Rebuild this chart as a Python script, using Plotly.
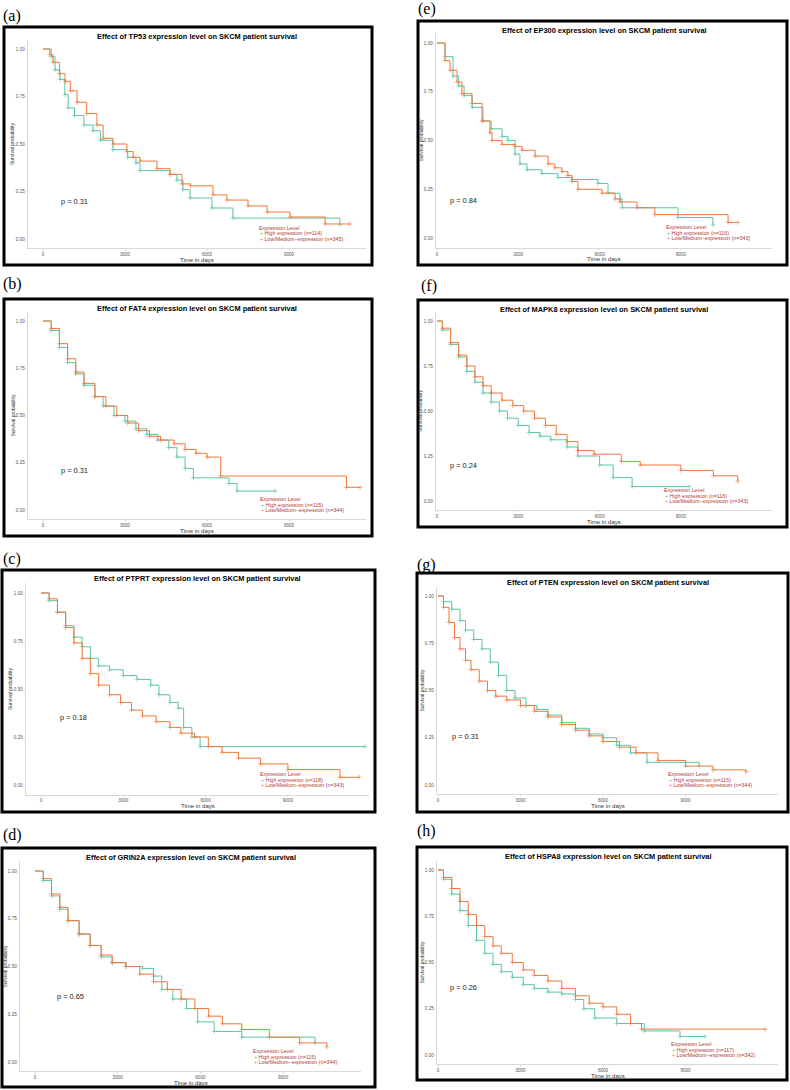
import plotly.graph_objects as go

W, H = 790, 1090
GREEN = "#5cc4a4"
ORANGE = "#f2773b"
LEG_RED = "#b03a36"

# ---------------- data ----------------
genes = ["TP53", "FAT4", "PTPRT", "GRIN2A", "EP300", "MAPK8", "PTEN", "HSPA8"]
labels = ["(a)", "(b)", "(c)", "(d)", "(e)", "(f)", "(g)", "(h)"]
pvals = ["0.31", "0.31", "0.18", "0.65", "0.84", "0.24", "0.31", "0.26"]
n_high = [114, 115, 118, 115, 116, 116, 115, 117]
n_low = [345, 344, 343, 344, 343, 343, 344, 342]

x_ticks = [0, 3000, 6000, 9000]
y_ticks = [0, 0.25, 0.5, 0.75, 1.0]
y_ticktext = ["0.00", "0.25", "0.50", "0.75", "1.00"]

# TP53
a_high_t = [0, 300, 440, 620, 800, 920, 1150, 1500, 1830, 2100, 2560, 3100, 3400, 3550, 4650, 4900, 5120, 5380, 6180, 6950, 10860]
a_high_s = [1.0, 0.96, 0.89, 0.84, 0.76, 0.69, 0.65, 0.60, 0.57, 0.52, 0.47, 0.43, 0.40, 0.36, 0.34, 0.31, 0.26, 0.216, 0.163, 0.11, 0.075]
a_low_t = [0, 250, 366, 600, 805, 1000, 1244, 1600, 1975, 2200, 2560, 3070, 3300, 3550, 4170, 4650, 5085, 5400, 6220, 6730, 7500, 8200, 9040, 10320, 11230]
a_low_s = [1.0, 0.97, 0.93, 0.87, 0.83, 0.78, 0.72, 0.66, 0.60, 0.53, 0.50, 0.46, 0.43, 0.41, 0.37, 0.34, 0.29, 0.28, 0.232, 0.205, 0.174, 0.142, 0.116, 0.079, 0.079]

# FAT4
b_high_t = [0, 300, 600, 900, 1200, 1500, 1900, 2200, 2600, 3000, 3400, 3800, 4200, 4600, 4900, 5200, 5500, 6800, 7100, 8500]
b_high_s = [1.0, 0.95, 0.86, 0.78, 0.72, 0.66, 0.60, 0.55, 0.50, 0.47, 0.43, 0.40, 0.37, 0.33, 0.28, 0.22, 0.17, 0.14, 0.10, 0.10]
b_low_t = [0, 300, 600, 900, 1200, 1500, 1900, 2300, 2700, 3100, 3500, 3900, 4300, 4800, 5200, 5600, 6000, 6500, 11100, 11600]
b_low_s = [1.0, 0.96, 0.88, 0.80, 0.73, 0.67, 0.60, 0.55, 0.50, 0.46, 0.42, 0.39, 0.37, 0.35, 0.32, 0.30, 0.28, 0.18, 0.12, 0.12]

# PTPRT
c_high_t = [0, 300, 600, 900, 1200, 1500, 1800, 2100, 2500, 3000, 3500, 4000, 4300, 4700, 5000, 5200, 5500, 5800, 11800]
c_high_s = [1.0, 0.96, 0.90, 0.83, 0.77, 0.72, 0.66, 0.62, 0.60, 0.57, 0.55, 0.52, 0.47, 0.43, 0.40, 0.30, 0.25, 0.20, 0.20]
c_low_t = [0, 300, 600, 900, 1200, 1500, 1800, 2100, 2500, 2900, 3300, 3700, 4200, 4700, 5100, 5600, 6100, 6600, 7200, 8000, 9000, 10900, 11600]
c_low_s = [1.0, 0.97, 0.90, 0.82, 0.74, 0.66, 0.58, 0.52, 0.47, 0.43, 0.39, 0.36, 0.33, 0.30, 0.27, 0.25, 0.20, 0.17, 0.14, 0.11, 0.08, 0.04, 0.04]

# GRIN2A
d_high_t = [0, 300, 600, 900, 1200, 1600, 2000, 2400, 2800, 3300, 3900, 4300, 4600, 5000, 5500, 5900, 6500, 7500, 10160]
d_high_s = [1.0, 0.95, 0.87, 0.80, 0.74, 0.67, 0.61, 0.55, 0.52, 0.50, 0.49, 0.45, 0.38, 0.33, 0.28, 0.21, 0.16, 0.13, 0.10]
d_low_t = [0, 300, 600, 900, 1200, 1600, 2000, 2400, 2800, 3300, 3800, 4300, 4800, 5300, 5800, 6300, 6800, 7500, 8500, 9600, 10590]
d_low_s = [1.0, 0.96, 0.88, 0.81, 0.74, 0.67, 0.61, 0.56, 0.52, 0.50, 0.46, 0.42, 0.38, 0.33, 0.28, 0.24, 0.20, 0.17, 0.13, 0.10, 0.08]

# EP300
e_high_t = [0, 300, 590, 800, 1000, 1300, 1700, 2000, 2400, 2620, 2880, 3060, 3320, 3870, 4465, 5000, 5940, 6310, 6750, 6830, 8890, 10180]
e_high_s = [1.0, 0.93, 0.83, 0.78, 0.73, 0.67, 0.60, 0.56, 0.52, 0.50, 0.43, 0.38, 0.35, 0.33, 0.31, 0.30, 0.28, 0.23, 0.20, 0.155, 0.105, 0.067]
e_low_t = [0, 295, 480, 740, 920, 1290, 1660, 1955, 2030, 2400, 2880, 3140, 3620, 4100, 4350, 4610, 4830, 4980, 5200, 6090, 6570, 6750, 7380, 8040, 10740, 11100]
e_low_s = [1.0, 0.91, 0.86, 0.80, 0.74, 0.69, 0.60, 0.54, 0.50, 0.48, 0.47, 0.45, 0.42, 0.38, 0.36, 0.34, 0.32, 0.29, 0.25, 0.23, 0.20, 0.185, 0.155, 0.12, 0.08, 0.08]

# MAPK8
f_high_t = [0, 200, 500, 800, 1100, 1400, 1700, 2000, 2300, 2600, 3000, 3400, 3800, 4200, 4800, 5200, 6000, 6500, 7200, 9300]
f_high_s = [1.0, 0.95, 0.87, 0.80, 0.72, 0.66, 0.60, 0.55, 0.50, 0.46, 0.42, 0.38, 0.36, 0.34, 0.30, 0.25, 0.20, 0.13, 0.08, 0.08]
f_low_t = [0, 200, 500, 800, 1100, 1400, 1700, 2000, 2400, 2800, 3200, 3600, 4000, 4400, 4800, 5200, 5800, 6800, 7500, 9000, 10200, 11100]
f_low_s = [1.0, 0.96, 0.88, 0.81, 0.75, 0.69, 0.64, 0.60, 0.56, 0.53, 0.50, 0.46, 0.42, 0.37, 0.33, 0.28, 0.26, 0.22, 0.20, 0.17, 0.14, 0.11]

# PTEN
g_high_t = [0, 200, 500, 800, 1000, 1300, 1600, 1900, 2200, 2500, 2800, 3200, 3600, 4000, 4500, 5000, 5500, 6000, 6500, 7000, 7600, 9500]
g_high_s = [1.0, 0.97, 0.93, 0.87, 0.82, 0.77, 0.72, 0.65, 0.58, 0.50, 0.46, 0.42, 0.40, 0.37, 0.33, 0.30, 0.27, 0.25, 0.21, 0.17, 0.12, 0.10]
g_low_t = [0, 200, 400, 600, 800, 1000, 1200, 1500, 1800, 2100, 2500, 3000, 3500, 4000, 4500, 5000, 5500, 6000, 6600, 7200, 8000, 9000, 10000, 11200]
g_low_s = [1.0, 0.94, 0.86, 0.78, 0.72, 0.66, 0.61, 0.55, 0.50, 0.47, 0.45, 0.42, 0.39, 0.36, 0.32, 0.29, 0.26, 0.23, 0.20, 0.17, 0.13, 0.10, 0.08, 0.07]

# HSPA8
h_high_t = [0, 200, 500, 800, 1100, 1400, 1700, 2000, 2300, 2700, 3100, 3500, 4000, 4500, 5000, 5300, 5700, 6500, 7500, 8800, 9700]
h_high_s = [1.0, 0.95, 0.87, 0.78, 0.70, 0.62, 0.55, 0.49, 0.45, 0.42, 0.38, 0.36, 0.34, 0.33, 0.30, 0.25, 0.20, 0.17, 0.13, 0.10, 0.10]
h_low_t = [0, 200, 500, 800, 1100, 1400, 1700, 2000, 2300, 2700, 3100, 3500, 4000, 4500, 5000, 5500, 6000, 6500, 7000, 7400, 11900]
h_low_s = [1.0, 0.96, 0.90, 0.83, 0.76, 0.70, 0.64, 0.59, 0.55, 0.50, 0.46, 0.43, 0.40, 0.36, 0.32, 0.28, 0.26, 0.22, 0.17, 0.14, 0.14]

high_t = [a_high_t, b_high_t, c_high_t, d_high_t, e_high_t, f_high_t, g_high_t, h_high_t]
high_s = [a_high_s, b_high_s, c_high_s, d_high_s, e_high_s, f_high_s, g_high_s, h_high_s]
low_t = [a_low_t, b_low_t, c_low_t, d_low_t, e_low_t, f_low_t, g_low_t, h_low_t]
low_s = [a_low_s, b_low_s, c_low_s, d_low_s, e_low_s, f_low_s, g_low_s, h_low_s]

# ---------------- layout (pixel geometry) ----------------
geo = [
    dict(box=(4, 27, 372, 265), lab=(12, 16), z=43, k=82.0, xl=28, xr=366, y1=49, y0=239, leg=257, p=(59, 202)),
    dict(box=(4, 299, 372, 536), lab=(12, 284), z=43, k=82.0, xl=28, xr=366, y1=321, y0=510, leg=258, p=(59, 470)),
    dict(box=(2, 570, 375, 812), lab=(12, 559), z=41, k=82.3, xl=26, xr=369, y1=593, y0=785, leg=258, p=(58, 717)),
    dict(box=(2, 848, 375, 1087), lab=(12, 835), z=35, k=82.7, xl=20, xr=361, y1=871, y0=1062, leg=251, p=(55, 996)),
    dict(box=(418, 21, 787, 265), lab=(427, 9), z=437, k=81.3, xl=436, xr=772, y1=43, y0=238, leg=664, p=(448, 200)),
    dict(box=(418, 300, 787, 527), lab=(429, 286), z=437, k=81.3, xl=436, xr=772, y1=321, y0=501, leg=662, p=(448, 465)),
    dict(box=(417, 573, 788, 812), lab=(426, 565), z=438, k=82.5, xl=437, xr=778, y1=596, y0=785, leg=666, p=(450, 736)),
    dict(box=(417, 847, 787, 1080), lab=(426, 831), z=438, k=82.5, xl=437, xr=778, y1=870, y0=1055, leg=669, p=(448, 987)),
]


def fx(px):
    return px / W


def fy(py):
    return 1 - py / H


fig = go.Figure()
shapes = []
annotations = []
FONT = "Liberation Sans, Arial, sans-serif"

for i, g in enumerate(geo):
    n = i + 1
    xa = "x" if n == 1 else f"x{n}"
    ya = "y" if n == 1 else f"y{n}"
    unit = g["y0"] - g["y1"]
    yt = g["y1"] - 0.05 * unit
    yb = g["y0"] + 0.05 * unit
    xrange = [(g["xl"] - g["z"]) / g["k"] * 3000, (g["xr"] - g["z"]) / g["k"] * 3000]

    for ts, ss, col in [(high_t[i], high_s[i], GREEN), (low_t[i], low_s[i], ORANGE)]:
        sizes = [0] + [3.5] * (len(ts) - 1)
        fig.add_trace(go.Scatter(
            x=ts, y=ss, mode="lines+markers", line=dict(color=col, width=1, shape="hv"),
            marker=dict(symbol="cross-thin", size=sizes, line=dict(color=col, width=0.8)),
            xaxis=xa, yaxis=ya, showlegend=False, hoverinfo="skip"))

    axis_common = dict(showline=True, linecolor="#d0d0d0", linewidth=0.8, showgrid=False, zeroline=False,
                       ticks="outside", ticklen=1.5, tickwidth=0.6, tickcolor="#c8c8c8",
                       tickfont=dict(family=FONT, size=4.6, color="#555555"))
    fig.layout[("xaxis" if n == 1 else f"xaxis{n}")] = dict(
        domain=[fx(g["xl"]), fx(g["xr"])], range=xrange, anchor=ya,
        tickvals=x_ticks, ticktext=[str(v) for v in x_ticks], **axis_common)
    fig.layout[("yaxis" if n == 1 else f"yaxis{n}")] = dict(
        domain=[fy(yb), fy(yt)], range=[-0.05, 1.05], anchor=xa,
        tickvals=y_ticks, ticktext=y_ticktext, **axis_common)

    x0, y0, x1, y1 = g["box"]
    shapes.append(dict(type="rect", xref="paper", yref="paper", x0=fx(x0), x1=fx(x1), y0=fy(y1), y1=fy(y0),
                       line=dict(color="black", width=3), fillcolor="rgba(0,0,0,0)"))
    cx = (g["xl"] + g["xr"]) / 2
    annotations.append(dict(text=labels[i], x=fx(g["lab"][0]), y=fy(g["lab"][1]), xref="paper", yref="paper",
                            showarrow=False, xanchor="center", yanchor="middle",
                            font=dict(family="Liberation Serif, Times New Roman, serif", size=16, color="black")))
    annotations.append(dict(text=f"<b>Effect of {genes[i]} expression level on SKCM patient survival</b>",
                            x=fx(cx), y=fy(y0 + 9), xref="paper", yref="paper", showarrow=False,
                            xanchor="center", yanchor="middle", font=dict(family=FONT, size=7.4, color="black")))
    annotations.append(dict(text="Time in days", x=fx(cx), y=fy(yb + 11.5), xref="paper", yref="paper",
                            showarrow=False, xanchor="center", yanchor="middle",
                            font=dict(family=FONT, size=6, color="#333333")))
    annotations.append(dict(text="Survival probability", x=fx(g["xl"] - 16), y=fy((yt + yb) / 2), xref="paper",
                            yref="paper", showarrow=False, textangle=-90, xanchor="center", yanchor="middle",
                            font=dict(family=FONT, size=5, color="#333333")))
    annotations.append(dict(text=f"p = {pvals[i]}", x=fx(g["p"][0]), y=fy(g["p"][1]), xref="paper",
                            yref="paper", showarrow=False, xanchor="left", yanchor="middle",
                            font=dict(family=FONT, size=7.4, color="#222222")))
    lx = g["leg"]
    annotations.append(dict(text="Expression Level", x=fx(lx), y=fy(g["y0"] - 11), xref="paper", yref="paper",
                            showarrow=False, xanchor="left", yanchor="middle",
                            font=dict(family=FONT, size=5.3, color=LEG_RED)))
    annotations.append(dict(text=f"<span style='color:{GREEN}'>+</span> High expression (n={n_high[i]})",
                            x=fx(lx + 1), y=fy(g["y0"] - 5.5), xref="paper", yref="paper", showarrow=False,
                            xanchor="left", yanchor="middle", font=dict(family=FONT, size=5.3, color=LEG_RED)))
    annotations.append(dict(text=f"<span style='color:{ORANGE}'>+</span> Low/Medium\u2212expression (n={n_low[i]})",
                            x=fx(lx + 1), y=fy(g["y0"]), xref="paper", yref="paper", showarrow=False,
                            xanchor="left", yanchor="middle", font=dict(family=FONT, size=5.3, color=LEG_RED)))

fig.update_layout(width=W, height=H, margin=dict(l=0, r=0, t=0, b=0), autosize=False,
                  paper_bgcolor="white", plot_bgcolor="white", shapes=shapes, annotations=annotations,
                  showlegend=False)
fig.write_html("out.html", config={"displayModeBar": False, "staticPlot": True},
               post_script="document.body.style.margin='0';document.body.style.overflow='hidden';")
